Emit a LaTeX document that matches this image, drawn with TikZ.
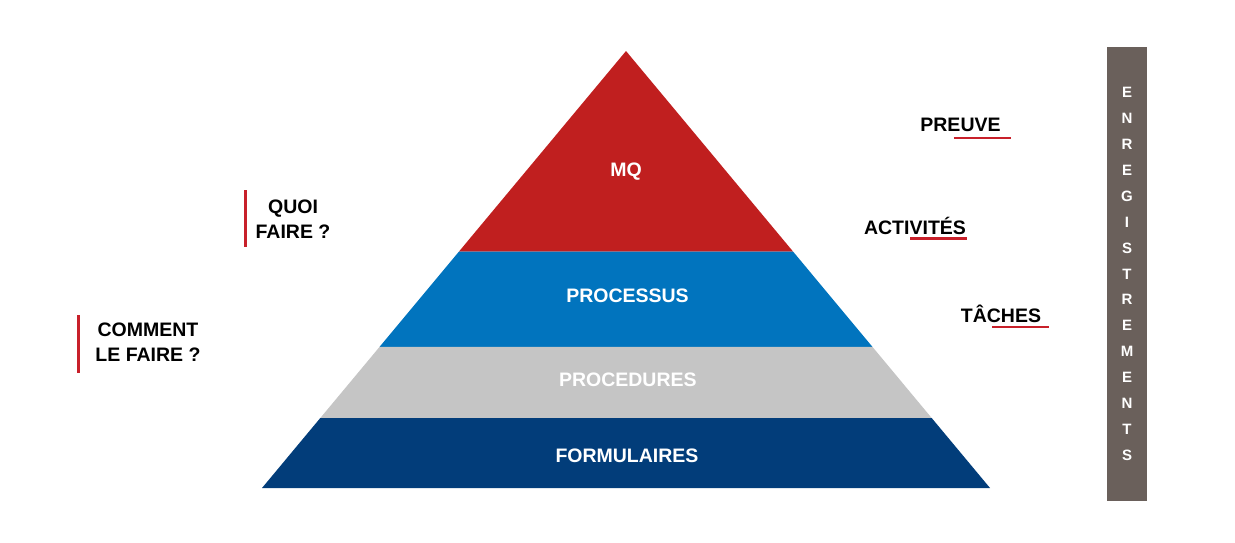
\documentclass[tikz,border=0pt]{standalone}
\usepackage{fontspec}
\setmainfont{Liberation Sans}
\usepackage{tikz}
\usetikzlibrary{calc}
\definecolor{mqred}{HTML}{C01F1F}
\definecolor{procblue}{HTML}{0174BE}
\definecolor{procgray}{HTML}{C5C5C5}
\definecolor{formblue}{HTML}{023D7A}
\definecolor{regbrown}{HTML}{6A605B}
\definecolor{markred}{HTML}{C8202A}
\tikzstyle{layertext} = [text=white, inner sep=0, anchor=base, font=\bfseries\fontsize{19.5}{23}\selectfont]
\tikzstyle{sidetext} = [inner sep=0, anchor=base, font=\bfseries\fontsize{19.5}{23}\selectfont]
\tikzstyle{question} = [inner sep=0, anchor=north, align=center, font=\bfseries\fontsize{19.5}{25}\selectfont]
\tikzstyle{underline} = [draw=markred, line width=2.5]
\tikzstyle{marker} = [draw=markred, line width=3]
\tikzstyle{register} = [rectangle, fill=regbrown, text=white, inner sep=0, minimum width=40, minimum height=454, align=center, font=\bfseries\fontsize{15}{25.9}\selectfont]

\begin{document}
\begin{tikzpicture}[x=1pt,y=-1pt]
            \useasboundingbox (0,0) rectangle (1235,542);
            \coordinate (apex) at (626,51);
            \coordinate (bl) at (262,488);
            \coordinate (br) at (990,488);
            % pyramid layers
            \fill[mqred] (apex) -- ($(apex)!0.459!(bl)$) -- ($(apex)!0.459!(br)$) -- cycle;
            \fill[procblue] ($(apex)!0.459!(bl)$) -- ($(apex)!0.677!(bl)$) -- ($(apex)!0.677!(br)$) -- ($(apex)!0.459!(br)$) -- cycle;
            \fill[procgray] ($(apex)!0.677!(bl)$) -- ($(apex)!0.840!(bl)$) -- ($(apex)!0.840!(br)$) -- ($(apex)!0.677!(br)$) -- cycle;
            \fill[formblue] ($(apex)!0.840!(bl)$) -- (bl) -- (br) -- ($(apex)!0.840!(br)$) -- cycle;
            \node (mq) [layertext] at (626,176) {MQ};
            \node (processus) [layertext] at (627.5,302.5) {PROCESSUS};
            \node (procedures) [layertext] at (627.8,386) {PROCEDURES};
            \node (formulaires) [layertext] at (627,462) {FORMULAIRES};
            % right labels
            \node (preuve) [sidetext] at (960.5,131) {PREUVE};
            \draw [underline] ($(preuve.base east)+(-47,7)$) -- ++(57,0);
            \node (activites) [sidetext] at (915,234) {ACTIVITÉS};
            \draw [underline] ($(activites.base east)+(-56,4.5)$) -- ++(57,0);
            \node (taches) [sidetext] at (1001,322) {TÂCHES};
            \draw [underline] ($(taches.base east)+(-49,5)$) -- ++(57,0);
            % left labels
            \node (quoi) [question] at (293,200) {QUOI\\FAIRE ?};
            \draw [marker] (245,190) -- (245,247);
            \node (comment) [question] at (148,323) {COMMENT\\LE FAIRE ?};
            \draw [marker] (78,315) -- (78,373);
            \node (registres) [register] at (1127,274) {E\\N\\R\\E\\G\\I\\S\\T\\R\\E\\M\\E\\N\\T\\S};
        \end{tikzpicture}
\end{document}
